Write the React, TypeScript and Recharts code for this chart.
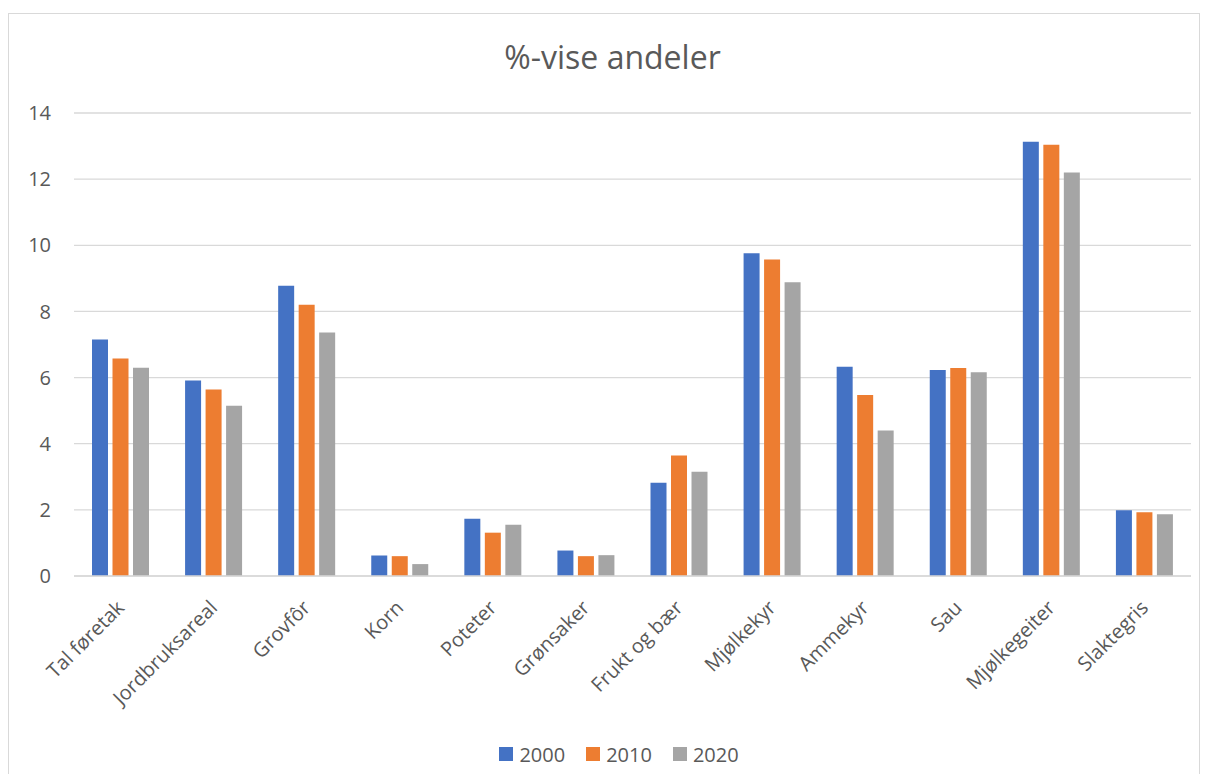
import { Bar, BarChart, CartesianGrid, Legend, XAxis, YAxis } from "recharts";

const categories = [
    "Tal føretak",
    "Jordbruksareal",
    "Grovfôr",
    "Korn",
    "Poteter",
    "Grønsaker",
    "Frukt og bær",
    "Mjølkekyr",
    "Ammekyr",
    "Sau",
    "Mjølkegeiter",
    "Slaktegris",
];

const values2000 = [7.15, 5.91, 8.78, 0.62, 1.73, 0.77, 2.82, 9.76, 6.33, 6.23, 13.13, 1.99];
const values2010 = [6.58, 5.64, 8.2, 0.6, 1.31, 0.6, 3.64, 9.57, 5.47, 6.29, 13.04, 1.93];
const values2020 = [6.3, 5.15, 7.36, 0.36, 1.55, 0.63, 3.15, 8.88, 4.4, 6.16, 12.2, 1.87];

const yTicks = [0, 2, 4, 6, 8, 10, 12, 14];

const series = [
    { key: "y2000", name: "2000", color: "#4472c4" },
    { key: "y2010", name: "2010", color: "#ed7d31" },
    { key: "y2020", name: "2020", color: "#a5a5a5" },
];

const data = categories.map((label, i) => ({
    label,
    y2000: values2000[i],
    y2010: values2010[i],
    y2020: values2020[i],
}));

const textColor = "#595959";
const gridColor = "#d9d9d9";

const CategoryTick = ({ x, y, payload }: any) => (
    <text
        x={x}
        y={y}
        dy="0.35em"
        transform={`rotate(-45, ${x}, ${y})`}
        textAnchor="end"
        fill={textColor}
        fontSize={20}
    >
        {payload.value}
    </text>
);

const LegendContent = ({ payload }: any) => (
    <div style={{ display: "flex", justifyContent: "center", alignItems: "center", height: 30, paddingLeft: 51 }}>
        {(payload || []).map((entry: any) => (
            <div key={entry.value} style={{ display: "flex", alignItems: "center", marginRight: 21 }}>
                <span style={{ width: 14, height: 14, background: entry.color, marginRight: 6, display: "inline-block" }} />
                <span style={{ color: textColor, fontSize: 20 }}>{entry.value}</span>
            </div>
        ))}
    </div>
);

export default function App() {
    return (
        <div
            style={{
                position: "relative",
                top: 5,
                width: 1190,
                height: 765,
                borderTop: `1px solid ${gridColor}`,
                borderLeft: `1px solid ${gridColor}`,
                borderRight: `1px solid ${gridColor}`,
                background: "#fff",
                fontFamily: "'Open Sans', sans-serif",
            }}
        >
            <div
                style={{
                    position: "absolute",
                    top: 27,
                    left: 603.5,
                    transform: "translateX(-50%)",
                    whiteSpace: "nowrap",
                    fontSize: 32,
                    lineHeight: "32px",
                    color: textColor,
                }}
            >
                %-vise andeler
            </div>
            <BarChart
                width={1190}
                height={765}
                data={data}
                margin={{ top: 99, right: 8, bottom: 10, left: 0 }}
                barCategoryGap={18}
                barGap={4.5}
            >
                <CartesianGrid vertical={false} stroke={gridColor} strokeWidth={1.3} />
                <XAxis
                    dataKey="label"
                    interval={0}
                    height={163}
                    tickLine={false}
                    tickSize={0}
                    tickMargin={28}
                    axisLine={{ stroke: gridColor, strokeWidth: 1.3 }}
                    tick={<CategoryTick />}
                />
                <YAxis
                    domain={[0, 14]}
                    ticks={yTicks}
                    width={65}
                    tickLine={false}
                    axisLine={false}
                    tickSize={0}
                    tickMargin={23}
                    tick={{ fill: textColor, fontSize: 20 }}
                />
                <Legend
                    verticalAlign="bottom"
                    height={30}
                    wrapperStyle={{ left: 0, width: 1190, bottom: 10 }}
                    content={<LegendContent />}
                />
                {series.map((s) => (
                    <Bar key={s.key} dataKey={s.key} name={s.name} fill={s.color} isAnimationActive={false} />
                ))}
            </BarChart>
        </div>
    );
}
